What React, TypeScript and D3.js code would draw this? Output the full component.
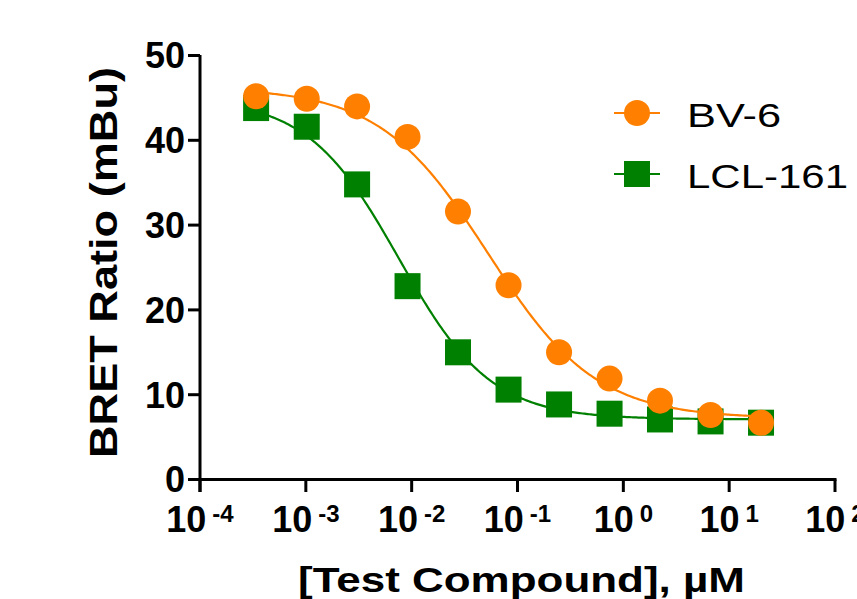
import React from "react";
import * as d3 from "d3";

// Concentrations (µM), 3-fold dilution series
const concentrations = [0.000339, 0.00102, 0.00305, 0.00914, 0.0274, 0.0823, 0.247, 0.741, 2.22, 6.67, 20];

// BRET ratio (mBu) values
const bv6Values = [45.2, 44.9, 44.0, 40.4, 31.6, 22.9, 15.0, 11.9, 9.3, 7.6, 6.7];
const lcl161Values = [43.8, 41.6, 34.8, 22.8, 15.0, 10.6, 8.85, 7.76, 7.08, 6.85, 6.7];

// Four-parameter logistic fit parameters
const bv6Fit = { top: 46.2, bottom: 7.2, logEC50: -1.28, hill: 0.85 };
const lcl161Fit = { top: 45.0, bottom: 7.1, logEC50: -2.12, hill: 1.0 };

const xTickExponents = [-4, -3, -2, -1, 0, 1, 2];
const yTicks = [0, 10, 20, 30, 40, 50];

const seriesNames = ["BV-6", "LCL-161"];

const ORANGE = "#FF8000";
const GREEN = "#008000";
const FONT = "'Liberation Sans', Arial, Helvetica, sans-serif";

function fit4pl(p: { top: number; bottom: number; logEC50: number; hill: number }, logx: number) {
  return p.bottom + (p.top - p.bottom) / (1 + Math.pow(10, (logx - p.logEC50) * p.hill));
}

export default function App() {
  const W = 857;
  const H = 599;
  const x = d3.scaleLog().domain([1e-4, 1e2]).range([200, 835]);
  const y = d3.scaleLinear().domain([0, 50]).range([479.5, 55.5]);

  const lo = Math.log10(concentrations[0]);
  const hi = Math.log10(concentrations[concentrations.length - 1]);
  const samples = d3.range(0, 301).map((i) => lo + ((hi - lo) * i) / 300);

  const line = d3
    .line<[number, number]>()
    .x((d) => x(Math.pow(10, d[0])))
    .y((d) => y(d[1]));

  const bvCurve = line(samples.map((l) => [l, fit4pl(bv6Fit, l)] as [number, number])) || "";
  const lclCurve = line(samples.map((l) => [l, fit4pl(lcl161Fit, l)] as [number, number])) || "";

  const x0 = x.range()[0];
  const x1 = x.range()[1];
  const yBase = y(0);
  const sq = 26;
  const r = 13;

  return (
    <svg
      width={W}
      height={H}
      viewBox={`0 0 ${W} ${H}`}
      style={{ position: "absolute", left: 0, top: 0, background: "#fff" }}
      fontFamily={FONT}
    >
      <rect x={0} y={0} width={W} height={H} fill="#fff" />

      {/* Y axis */}
      <line x1={x0} x2={x0} y1={y(50) - 0.5} y2={492} stroke="#000" strokeWidth={3} />
      {yTicks.map((t) => (
        <g key={"y" + t}>
          <line x1={188} x2={x0} y1={y(t)} y2={y(t)} stroke="#000" strokeWidth={3} />
          <text x={185} y={y(t) + 12.8} textAnchor="end" fontSize={36} fontWeight="bold" fill="#000">
            {t}
          </text>
        </g>
      ))}

      {/* X axis */}
      <line x1={x0 - 1.5} x2={x1 + 1.5} y1={yBase} y2={yBase} stroke="#000" strokeWidth={3} />
      {xTickExponents.map((e) => (
        <g key={"x" + e}>
          <line x1={x(Math.pow(10, e))} x2={x(Math.pow(10, e))} y1={yBase} y2={492} stroke="#000" strokeWidth={3} />
          <text x={x(Math.pow(10, e))} y={532} textAnchor="middle" fontWeight="bold" fill="#000">
            <tspan fontSize={36}>10</tspan>
            <tspan fontSize={24} dx={6} dy={-10.5}>
              {String(e)}
            </tspan>
          </text>
        </g>
      ))}

      {/* Axis titles */}
      <text
        x={521.5}
        y={592}
        textAnchor="middle"
        fontSize={35}
        fontWeight="bold"
        textLength={447}
        lengthAdjust="spacingAndGlyphs"
        fill="#000"
      >
        [Test Compound], µM
      </text>
      <text
        transform={`translate(116.5, 262.5) rotate(-90)`}
        x={0}
        y={0}
        textAnchor="middle"
        fontSize={39}
        fontWeight="bold"
        textLength={391}
        lengthAdjust="spacingAndGlyphs"
        fill="#000"
      >
        BRET Ratio (mBu)
      </text>

      {/* LCL-161 series */}
      <path d={lclCurve} fill="none" stroke={GREEN} strokeWidth={2.2} />
      {concentrations.map((c, i) => (
        <rect
          key={"l" + i}
          x={x(c) - sq / 2}
          y={y(lcl161Values[i]) - sq / 2}
          width={sq}
          height={sq}
          fill={GREEN}
        />
      ))}

      {/* BV-6 series */}
      <path d={bvCurve} fill="none" stroke={ORANGE} strokeWidth={2.2} />
      {concentrations.map((c, i) => (
        <circle key={"b" + i} cx={x(c)} cy={y(bv6Values[i])} r={r} fill={ORANGE} />
      ))}

      {/* Legend */}
      <g>
        <line x1={614} x2={660} y1={113} y2={113} stroke={ORANGE} strokeWidth={2.2} />
        <circle cx={637} cy={113} r={r} fill={ORANGE} />
        <text x={687} y={127} fontSize={34} fill="#000" textLength={94} lengthAdjust="spacingAndGlyphs">
          {seriesNames[0]}
        </text>
        <line x1={614} x2={660} y1={174} y2={174} stroke={GREEN} strokeWidth={2.2} />
        <rect x={637 - sq / 2} y={174 - sq / 2} width={sq} height={sq} fill={GREEN} />
        <text x={687} y={188} fontSize={34} fill="#000" textLength={161} lengthAdjust="spacingAndGlyphs">
          {seriesNames[1]}
        </text>
      </g>
    </svg>
  );
}
